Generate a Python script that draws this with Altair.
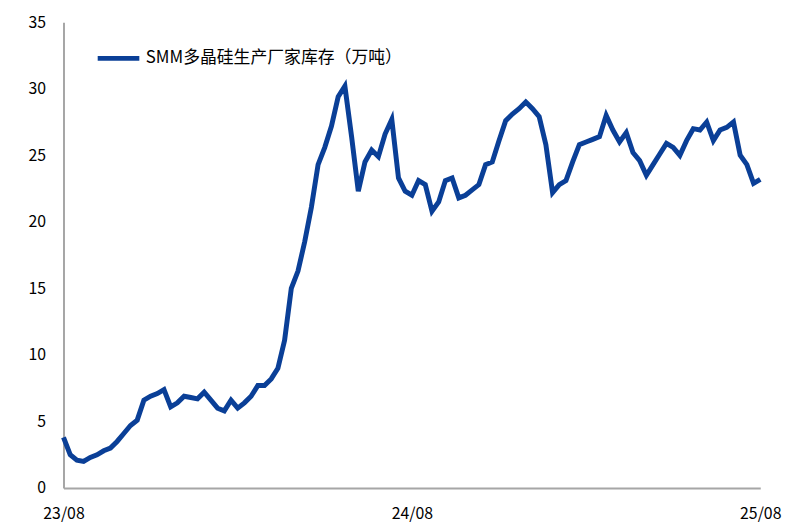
import altair as alt
import pandas as pd

inventory = [
    3.8, 2.5, 2.1, 2.0, 2.3, 2.5, 2.8, 3.0, 3.5, 4.1,
    4.7, 5.1, 6.6, 6.9, 7.1, 7.4, 6.1, 6.4, 6.9, 6.8,
    6.7, 7.2, 6.6, 6.0, 5.8, 6.6, 6.0, 6.4, 6.9, 7.7,
    7.7, 8.2, 9.0, 11.1, 15.0, 16.3, 18.5, 21.1, 24.3, 25.6,
    27.2, 29.4, 30.2, 26.4, 22.3, 24.5, 25.4, 24.9, 26.6, 27.7,
    23.3, 22.3, 22.0, 23.1, 22.8, 20.8, 21.5, 23.1, 23.3, 21.8,
    22.0, 22.4, 22.8, 24.3, 24.5, 26.1, 27.6, 28.1, 28.5, 29.0,
    28.5, 27.9, 25.8, 22.2, 22.8, 23.1, 24.5, 25.8, 26.0, 26.2,
    26.4, 28.0, 26.9, 26.0, 26.7, 25.2, 24.6, 23.5, 24.3, 25.1,
    25.9, 25.6, 25.0, 26.1, 27.0, 26.9, 27.5, 26.1, 26.9, 27.1,
    27.5, 25.0, 24.3, 22.9, 23.2,
]
dates = pd.date_range("2023-08-04", periods=len(inventory), freq="7D")
series_name = "SMM多晶硅生产厂家库存（万吨）"
tick_dates = ["2023-08-04", "2024-08-02", "2025-08-01"]

df = pd.DataFrame({"date": dates, "value": inventory, "series": series_name})

font = "Noto Sans CJK SC"

chart = alt.Chart(df).mark_line(strokeWidth=5, color="#0a3f97").encode(
    x=alt.X(
        "date:T",
        scale=alt.Scale(domain=[tick_dates[0], tick_dates[-1]], nice=False),
        axis=alt.Axis(
            values=[alt.DateTime(year=2023, month=8, date=4),
                    alt.DateTime(year=2024, month=8, date=2),
                    alt.DateTime(year=2025, month=8, date=1)],
            format="%y/%m", title=None, grid=False, ticks=False,
            labelFontSize=16, labelFont=font, labelColor="#000000",
            labelPadding=18, domainColor="#a6a6a6", domainWidth=2,
            labelFlush=False,
        ),
    ),
    y=alt.Y(
        "value:Q",
        scale=alt.Scale(domain=[0, 35], nice=False),
        axis=alt.Axis(
            values=[0, 5, 10, 15, 20, 25, 30, 35], title=None, grid=False,
            ticks=False, labelFontSize=16, labelFont=font, labelColor="#000000",
            labelPadding=18, domainColor="#a6a6a6", domainWidth=2,
        ),
    ),
    color=alt.Color(
        "series:N",
        scale=alt.Scale(range=["#0a3f97"]),
        legend=alt.Legend(
            title=None, orient="none", legendX=32, legendY=13,
            symbolType="stroke", symbolSize=1764, symbolStrokeWidth=5,
            labelFontSize=17, labelFont=font, labelColor="#000000",
            labelOffset=4, labelLimit=0,
        ),
    ),
).properties(
    width=703, height=470,
    padding={"left": 56, "top": 12, "right": 30, "bottom": 40},
    autosize=alt.AutoSizeParams(type="none"),
).configure_view(stroke=None)

chart.save("out.html", embed_options={"renderer": "svg", "actions": False})
